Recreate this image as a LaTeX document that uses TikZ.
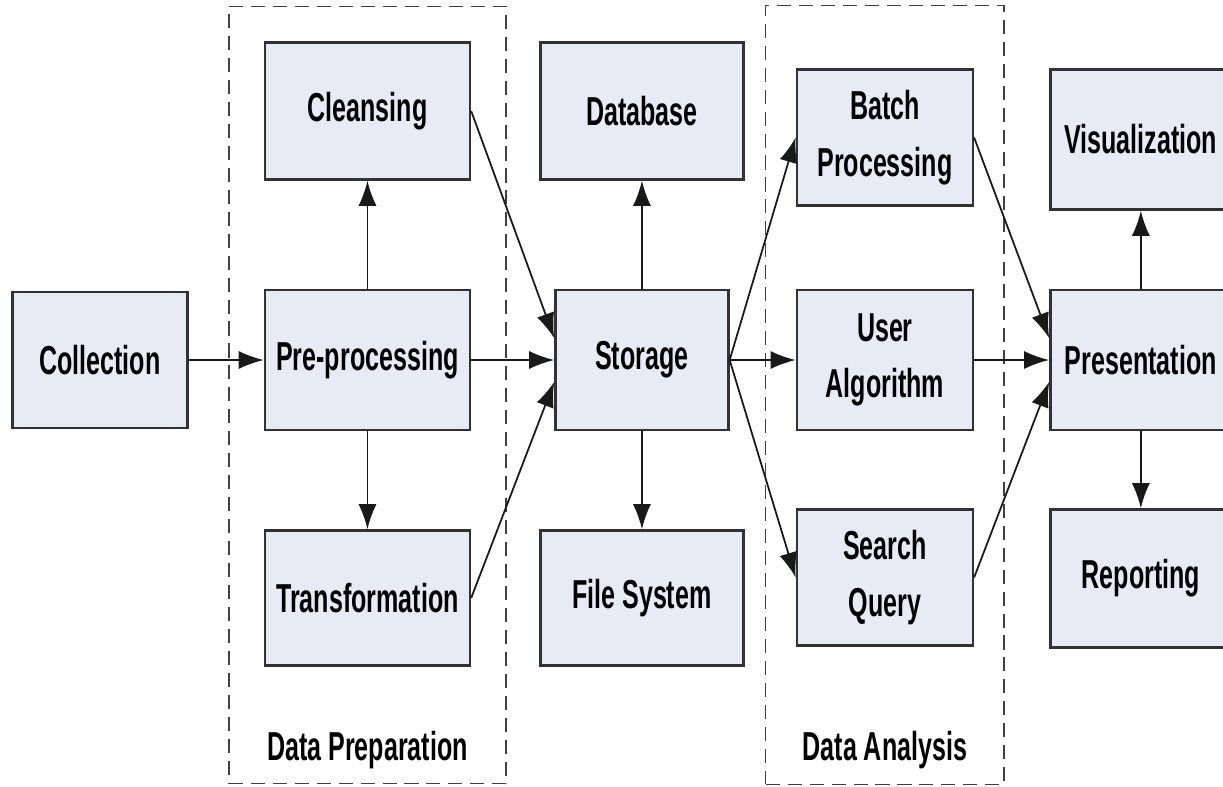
\documentclass[tikz,border=0pt]{standalone}
\usepackage{fontspec}
\newfontfamily\diagfont[FakeStretch=0.62]{Liberation Sans}
\usepackage{tikz}
\usetikzlibrary{positioning,arrows.meta,fit,backgrounds}
\definecolor{boxfill}{RGB}{230,235,246}
\definecolor{boxline}{RGB}{50,50,50}

\begin{document}
\begin{tikzpicture}[node distance=1.5cm, auto,
    block/.style={draw=boxline, line width=1.4pt, fill=boxfill, rectangle, align=center,
        font=\diagfont\bfseries\fontsize{23}{32}\selectfont, minimum height=2.8cm, inner sep=2pt},
    flow/.style={-{Latex[length=0.5cm,width=0.36cm]}, line width=1pt, black!90},
    group/.style={draw=black!75, dash pattern=on 8pt off 4.5pt, line width=0.9pt},
    grouplabel/.style={font=\diagfont\bfseries\fontsize{23}{28}\selectfont, inner sep=0pt}]
    \useasboundingbox (-2,7.2) rectangle (22.46,-8.52);

    % Collection and preparation
    \node[block, minimum width=3.5cm, minimum height=2.72cm] (collection) {Collection};
    \node[block, minimum width=4.1cm, right=1.5cm of collection] (preproc) {Pre-processing};
    \node[block, minimum width=4.1cm, minimum height=2.74cm, above=2.16cm of preproc] (cleansing) {Cleansing};
    \node[block, minimum width=4.1cm, minimum height=2.7cm, below=1.96cm of preproc] (transform) {Transformation};

    % Storage
    \node[block, minimum width=3.46cm, right=1.66cm of preproc] (storage) {Storage};
    \node[block, minimum width=4.06cm, minimum height=2.74cm, above=2.16cm of storage] (database) {Database};
    \node[block, minimum width=4.06cm, minimum height=2.7cm, below=1.96cm of storage] (filesys) {File System};

    % Analysis
    \node[block, minimum width=3.52cm, right=1.32cm of storage] (useralgo) {User\\Algorithm};
    \node[block, minimum width=3.52cm, minimum height=2.72cm, above=1.64cm of useralgo] (batch) {Batch\\Processing};
    \node[block, minimum width=3.52cm, minimum height=2.72cm, below=1.54cm of useralgo] (search) {Search\\Query};

    % Presentation (cut at the right edge)
    \node[block, minimum width=3.62cm, right=1.5cm of useralgo] (present) {Presentation};
    \node[block, minimum width=3.62cm, above=1.56cm of present] (visual) {Visualization};
    \node[block, minimum width=3.62cm, minimum height=2.76cm, below=1.54cm of present] (report) {Reporting};

    % Groups
    \node[grouplabel, below=1.88cm of transform.south, anchor=base] (preplabel) {Data Preparation};
    \node[grouplabel, anchor=base] (analabel) at (preplabel.base -| batch) {Data Analysis};
    \coordinate[below=1.64cm of transform.south] (prepend);
    \begin{scope}[on background layer]
        \node[group, fit=(cleansing)(transform)(prepend), inner xsep=0.7cm, inner ysep=0.7cm] (prepbox) {};
        \node[group, fit=(batch)(search)(prepbox.north -| batch)(prepbox.south -| batch), inner xsep=0.6cm, inner ysep=0pt] (anabox) {};
    \end{scope}

    \draw[flow] (collection) -- (preproc);
    \draw[flow] (preproc) -- (cleansing);
    \draw[flow] (preproc) -- (transform);
    \draw[flow] (cleansing.east) -- ([yshift=0.44cm]storage.west);
    \draw[flow] (preproc) -- (storage);
    \draw[flow] (transform.east) -- ([yshift=-0.44cm]storage.west);
    \draw[flow] (storage) -- (database);
    \draw[flow] (storage) -- (filesys);
    \draw[flow] (storage.east) -- (batch.west);
    \draw[flow] (storage.east) -- (useralgo.west);
    \draw[flow] (storage.east) -- (search.west);
    \draw[flow] (batch.east) -- ([yshift=0.44cm]present.west);
    \draw[flow] (useralgo) -- (present);
    \draw[flow] (search.east) -- ([yshift=-0.44cm]present.west);
    \draw[flow] (present) -- (visual);
    \draw[flow] (present) -- (report);
\end{tikzpicture}
\end{document}
